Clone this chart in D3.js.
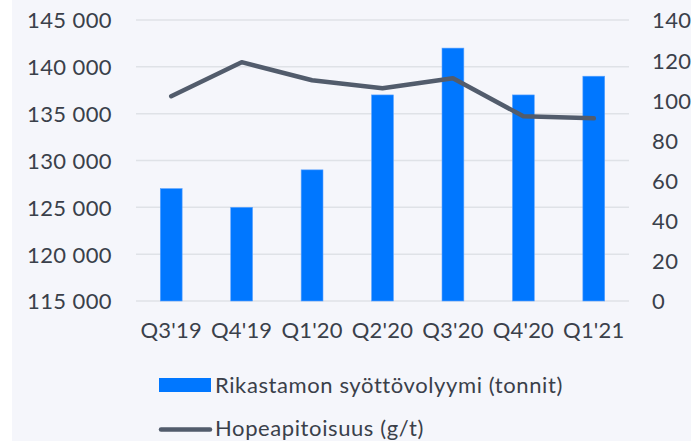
<!DOCTYPE html>
<html><head><meta charset="utf-8">
<script src="https://cdn.jsdelivr.net/npm/d3@7"></script>
<style>
html,body{margin:0;padding:0;background:#fff;}
svg{display:block;}
text{font-family:Lato, "Open Sans", sans-serif;fill:#3a404a;letter-spacing:0.6px;}
.xa text{letter-spacing:0.2px;}
.ya text{letter-spacing:0.4px;}
</style></head>
<body>
<script>
const categories = ["Q3'19","Q4'19","Q1'20","Q2'20","Q3'20","Q4'20","Q1'21"];
const volume = [127000,125000,129000,137000,142000,137000,139000];
const grade = [102,119,110,106,111,92,91];
const leftTicks = [115000,120000,125000,130000,135000,140000,145000];
const rightTicks = [0,20,40,60,80,100,120,140];
const seriesNames = ["Rikastamon syöttövolyymi (tonnit)","Hopeapitoisuus (g/t)"];

const W=691,H=442;
const FS="22px";
const svg=d3.select("body").append("svg").attr("width",W).attr("height",H);
svg.append("rect").attr("x",12).attr("y",0).attr("width",W-12).attr("height",H-1).attr("fill","#f5f6fb");

const x0=136,x1=629,yTop=20,yBot=301;
const x=d3.scaleBand().domain(categories).range([x0,x1]).paddingInner(0.69).paddingOuter(0.345);
const yL=d3.scaleLinear().domain([115000,145000]).range([yBot,yTop]);
const yR=d3.scaleLinear().domain([0,140]).range([yBot,yTop]);

// gridlines
svg.append("g").selectAll("line").data(leftTicks).join("line")
  .attr("x1",x0).attr("x2",x1).attr("y1",d=>yL(d)).attr("y2",d=>yL(d))
  .attr("stroke","#dfe2e7").attr("stroke-width",1.5);

// left axis
const fmt=d=>d3.format(",")(d).replace(/,/g," ");
const la=svg.append("g").attr("class","ya").attr("transform",`translate(112,0)`)
  .call(d3.axisLeft(yL).tickValues(leftTicks).tickFormat(fmt).tickSize(0).tickPadding(0));
la.select(".domain").remove();
la.selectAll("text").style("font-size",FS).attr("fill","#3a404a").attr("dy","0.36em");

// right axis
const ra=svg.append("g").attr("class","ya").attr("transform",`translate(652,0)`)
  .call(d3.axisRight(yR).tickValues(rightTicks).tickSize(0).tickPadding(0));
ra.select(".domain").remove();
ra.selectAll("text").style("font-size",FS).attr("fill","#3a404a").attr("dy","0.36em");

// bars
svg.append("g").selectAll("rect").data(categories).join("rect")
  .attr("x",d=>x(d)).attr("width",x.bandwidth())
  .attr("y",(d,i)=>yL(volume[i])).attr("height",(d,i)=>yBot-yL(volume[i]))
  .attr("fill","#0077ff").attr("stroke","#5aa2ff").attr("stroke-width",0.6);

// bottom axis
const ba=svg.append("g").attr("class","xa").attr("transform",`translate(0,${yBot})`)
  .call(d3.axisBottom(x).tickSize(0).tickPadding(0));
ba.select(".domain").remove();
ba.selectAll("text").style("font-size",FS).attr("fill","#3a404a").attr("y",37).attr("dy","0");

// line
const line=d3.line().x((d,i)=>x(categories[i])+x.bandwidth()/2).y(d=>yR(d));
svg.append("path").datum(grade).attr("d",line).attr("fill","none")
  .attr("stroke","#525c6c").attr("stroke-width",4.5).attr("stroke-linecap","round").attr("stroke-linejoin","round");

// legend
svg.append("rect").attr("x",159).attr("y",378).attr("width",52).attr("height",14).attr("fill","#0077ff");
svg.append("text").attr("x",215).attr("y",393).style("font-size",FS).text(seriesNames[0]);
svg.append("line").attr("x1",161).attr("x2",210).attr("y1",429.5).attr("y2",429.5)
  .attr("stroke","#525c6c").attr("stroke-width",4.5).attr("stroke-linecap","round");
svg.append("text").attr("x",215).attr("y",436).style("font-size",FS).text(seriesNames[1]);
</script>
</body></html>
